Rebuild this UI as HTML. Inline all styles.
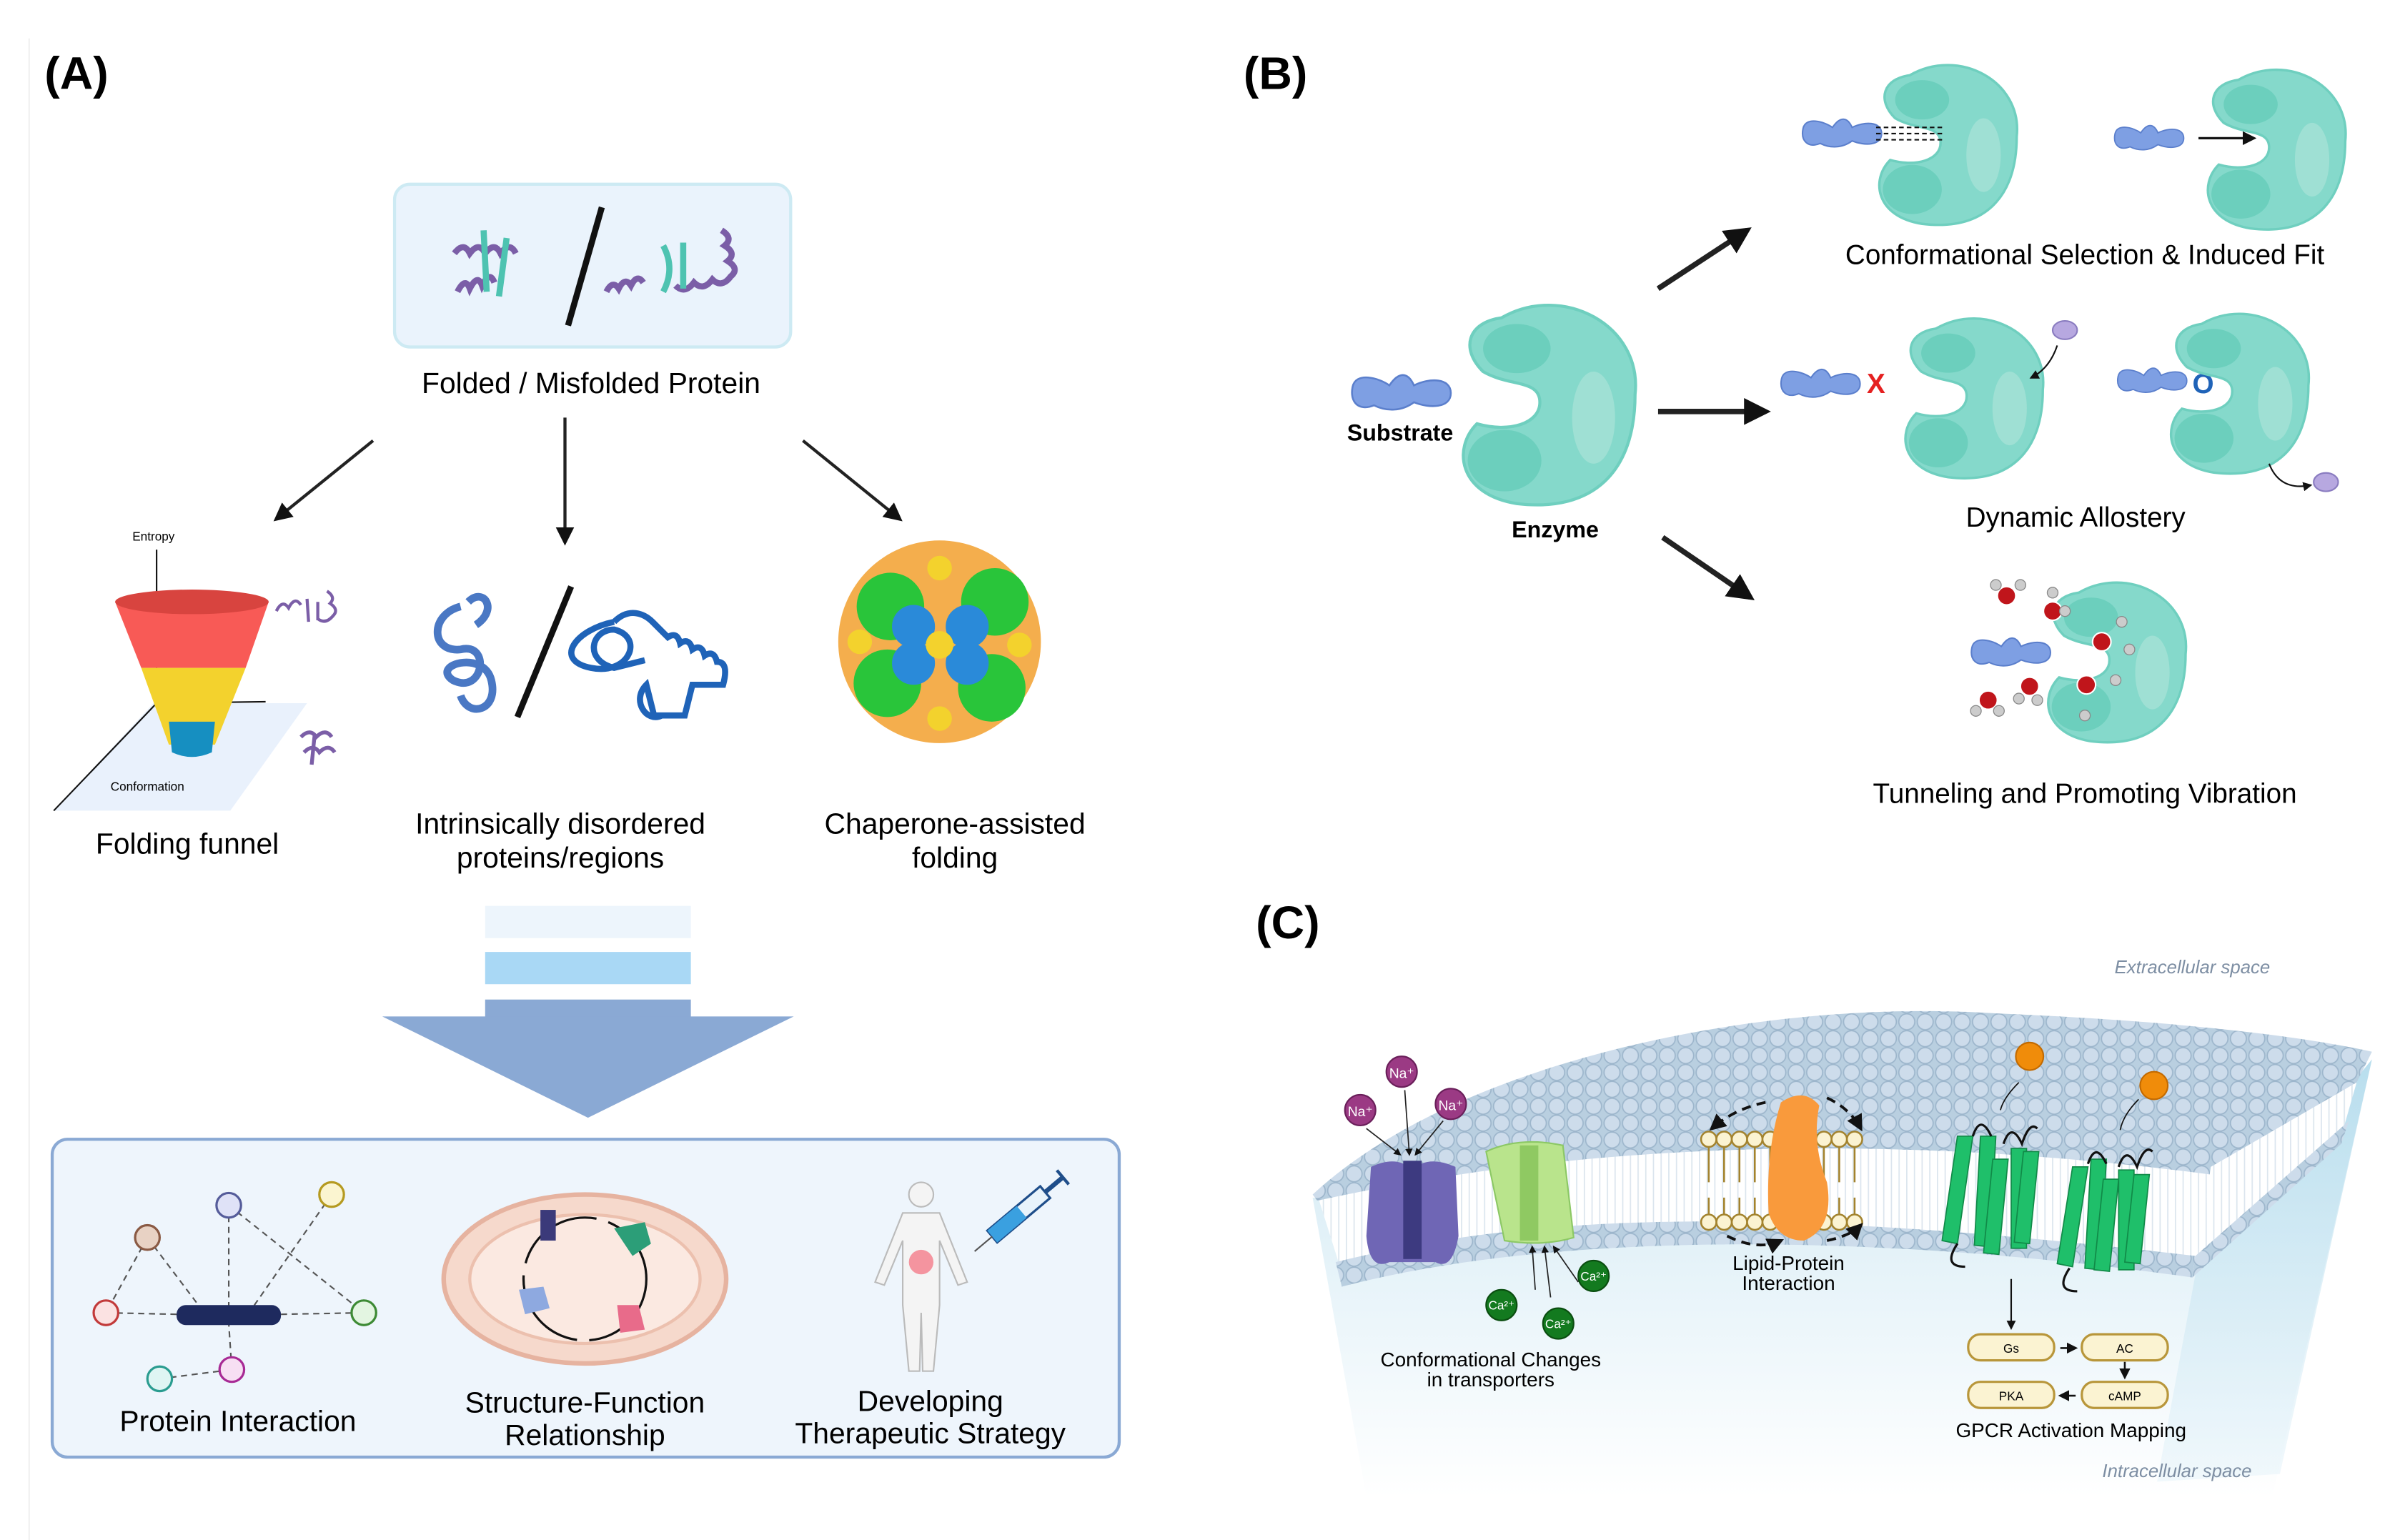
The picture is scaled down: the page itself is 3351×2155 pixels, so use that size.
<!DOCTYPE html>
<html><head><meta charset="utf-8"><style>
html,body{margin:0;padding:0;background:#fff}
svg{display:block}
text{font-family:"Liberation Sans",sans-serif}
</style></head><body>
<svg width="3351" height="2155" viewBox="0 0 1560 1003" preserveAspectRatio="none" xmlns="http://www.w3.org/2000/svg">
<defs>
<marker id="ah" viewBox="0 0 10 10" refX="8" refY="5" markerWidth="5" markerHeight="5" orient="auto"><path d="M0,0L10,5L0,10z" fill="#111"/></marker>
<marker id="sa" viewBox="0 0 10 10" refX="8" refY="5" markerWidth="6" markerHeight="6" orient="auto"><path d="M0,0L10,5L0,10z" fill="#111"/></marker>
<g id="enz"><path d="M-30,-55 C10,-78 62,-50 57,-5 C57,45 30,72 -20,66 C-58,60 -62,30 -46,14 C-25,20 -5,14 -5,0 C-5,-15 -25,-10 -42,-20 C-57,-35 -52,-52 -30,-55Z" fill="#85d9cb" stroke="#6fcfbf" stroke-width="2"/>
<ellipse cx="-20" cy="-35" rx="22" ry="16" fill="#6ccfbd"/><ellipse cx="-28" cy="38" rx="24" ry="20" fill="#6ccfbd"/><ellipse cx="30" cy="10" rx="14" ry="30" fill="#9fe0d4"/></g>
<g id="sub"><path d="M-32,-4 C-30,-14 -15,-10 -8,-5 C-2,-14 4,-14 8,-5 C18,-10 32,-10 32,0 C32,10 18,10 8,6 C0,12 -10,12 -18,8 C-28,12 -34,6 -32,-4Z" fill="#7e9fe3" stroke="#5b7fcc" stroke-width="1.2"/></g>
<pattern id="heads" width="12" height="11" patternUnits="userSpaceOnUse"><rect width="12" height="11" fill="#b9cfe0"/><circle cx="6" cy="5.5" r="5.2" fill="#cddceb" stroke="#9db6cc" stroke-width="0.8"/></pattern>
<pattern id="tails" width="5" height="40" patternUnits="userSpaceOnUse"><rect width="5" height="40" fill="#fff"/><line x1="2" y1="0" x2="2" y2="40" stroke="#dbe5ee" stroke-width="0.8"/></pattern>
<linearGradient id="cyto" x1="0" y1="0" x2="0" y2="1"><stop offset="0" stop-color="#cfe8f3"/><stop offset="1" stop-color="#fff"/></linearGradient>
<linearGradient id="side" x1="0" y1="0" x2="0" y2="1"><stop offset="0" stop-color="#a9d7ea"/><stop offset="1" stop-color="#e8f4fa"/></linearGradient>
</defs>

<line x1="19" y1="25" x2="19" y2="1003" stroke="#f0f0f0"/>
<!-- (A) -->
<text x="29" y="58" font-size="30" font-weight="bold">(A)</text>
<rect x="257" y="120" width="258" height="106" rx="10" fill="#eaf3fc" stroke="#cdeaf3" stroke-width="2"/>
<line x1="370" y1="212" x2="392" y2="135" stroke="#111" stroke-width="4"/>
<g fill="none" stroke-width="4"><path d="M298,190 q5,-10 8,-2 q5,-10 8,-2 q5,-10 8,-2 M296,165 q6,-8 10,0 q6,-8 10,0 q6,-8 10,0 q6,-8 10,0" stroke="#7b5ea7"/><path d="M315,150 l2,40 M330,155 l-5,38" stroke="#4ec3b1"/>
<path d="M395,190 q4,-8 8,-2 q4,-8 8,-2 q4,-8 8,-2 M470,150 q8,5 2,10 q8,5 2,10 q8,5 2,10 q-6,8 -12,2 q-6,8 -12,2 q-6,8 -12,2" stroke="#7b5ea7"/><path d="M432,160 q8,15 0,30 M445,158 l0,30" stroke="#4ec3b1"/></g>
<text x="385" y="256" font-size="19" text-anchor="middle">Folded / Misfolded Protein</text>
<g stroke="#222" stroke-width="2" marker-end="url(#sa)"><line x1="243" y1="287" x2="180" y2="338"/><line x1="368" y1="272" x2="368" y2="353"/><line x1="523" y1="287" x2="586" y2="338"/></g>
<!-- funnel -->
<polygon points="35,528 150,528 200,458 100,458" fill="#e9f1fc"/>
<line x1="102" y1="358" x2="102" y2="458" stroke="#111"/><line x1="102" y1="458" x2="35" y2="528" stroke="#111"/><line x1="102" y1="458" x2="173" y2="457" stroke="#111"/>
<path d="M75,392 L175,392 L160,435 L92,435Z" fill="#f85a56"/>
<path d="M92,435 L160,435 L140,485 L110,485Z" fill="#f3d22d"/>
<path d="M110,470 L140,470 L138,490 Q125,496 112,490Z" fill="#168fc1"/>
<ellipse cx="125" cy="392" rx="50" ry="8" fill="#d8443f"/>
<text x="100" y="352" font-size="8" text-anchor="middle">Entropy</text>
<text x="96" y="515" font-size="8" text-anchor="middle">Conformation</text>
<path d="M180,398 q4,-8 8,-2 q4,-8 8,-2 M200,390 l1,15 M207,392 l0,12 M213,385 q6,4 2,8 q6,4 2,8 q-5,6 -10,2" stroke="#7b5ea7" stroke-width="2" fill="none"/>
<path d="M196,480 q6,-6 10,0 q6,-6 10,0 M198,490 q6,-6 10,0 q6,-6 10,0 M205,478 l-2,20" stroke="#7b5ea7" stroke-width="2.5" fill="none"/>
<text x="122" y="556" font-size="19" text-anchor="middle">Folding funnel</text>
<!-- IDP -->
<line x1="337" y1="467" x2="372" y2="382" stroke="#111" stroke-width="4"/>
<path d="M300,395 c-20,5 -20,30 0,28 c20,-5 15,30 -5,20 c-15,-10 20,-20 25,0 c5,20 -15,25 -20,10 M305,392 c10,-10 20,5 5,15" stroke="#4a78c4" stroke-width="5" fill="none"/>
<path d="M400,405 c-25,5 -40,25 -15,30 c25,5 35,-20 15,-25 c-15,0 -20,20 0,25 l20,-5 M400,405 c10,-10 20,-5 25,0 l10,10 q6,-4 8,4 q6,-4 8,4 q6,-4 8,4 q6,-4 8,4 q8,0 4,15 l-20,0 l-5,20 l-20,0 l-5,-20 c-10,10 0,25 10,20" stroke="#1f63b8" stroke-width="4" fill="none"/>
<text x="365" y="543" font-size="19" text-anchor="middle">Intrinsically disordered</text>
<text x="365" y="565" font-size="19" text-anchor="middle">proteins/regions</text>
<!-- chaperone -->
<g>
<circle cx="612" cy="418" r="66" fill="#f2a02e" opacity="0.85"/>
<circle cx="580" cy="395" r="22" fill="#29c53a"/><circle cx="648" cy="392" r="22" fill="#29c53a"/><circle cx="578" cy="445" r="22" fill="#29c53a"/><circle cx="646" cy="448" r="22" fill="#29c53a"/>
<circle cx="595" cy="408" r="14" fill="#2a8ad9"/><circle cx="630" cy="408" r="14" fill="#2a8ad9"/><circle cx="595" cy="432" r="14" fill="#2a8ad9"/><circle cx="630" cy="432" r="14" fill="#2a8ad9"/>
<circle cx="612" cy="420" r="9" fill="#f3d22d"/><circle cx="560" cy="418" r="8" fill="#f3d22d"/><circle cx="664" cy="420" r="8" fill="#f3d22d"/><circle cx="612" cy="370" r="8" fill="#f3d22d"/><circle cx="612" cy="468" r="8" fill="#f3d22d"/>
</g>
<text x="622" y="543" font-size="19" text-anchor="middle">Chaperone-assisted</text>
<text x="622" y="565" font-size="19" text-anchor="middle">folding</text>
<!-- big arrow -->
<rect x="316" y="590" width="134" height="21" fill="#edf5fc"/>
<rect x="316" y="620" width="134" height="21" fill="#a9d8f5"/>
<rect x="316" y="651" width="134" height="12" fill="#8aa9d4"/>
<polygon points="249,662 517,662 383,728" fill="#8aa9d4"/>
<!-- bottom box -->
<rect x="34" y="742" width="695" height="207" rx="10" fill="#eef5fc" stroke="#8aa9d4" stroke-width="2"/>
<g stroke="#555" stroke-width="1" stroke-dasharray="4,3" fill="none">
<line x1="96" y1="806" x2="69" y2="855"/><line x1="96" y1="806" x2="130" y2="851"/><line x1="149" y1="785" x2="149" y2="851"/><line x1="216" y1="778" x2="165" y2="851"/><line x1="149" y1="785" x2="237" y2="855"/><line x1="69" y1="855" x2="115" y2="856"/><line x1="183" y1="856" x2="237" y2="855"/><line x1="104" y1="898" x2="151" y2="892"/><line x1="151" y1="892" x2="149" y2="862"/>
</g>
<rect x="115" y="850" width="68" height="13" rx="6" fill="#1e2a5e"/>
<g stroke-width="1.5"><circle cx="96" cy="806" r="8" fill="#e8d2c4" stroke="#8a5a44"/><circle cx="149" cy="785" r="8" fill="#dfe2f7" stroke="#555c9a"/><circle cx="216" cy="778" r="8" fill="#fbf5d0" stroke="#b59a20"/><circle cx="69" cy="855" r="8" fill="#fbe2e2" stroke="#c23a3a"/><circle cx="237" cy="855" r="8" fill="#e3f5e1" stroke="#3d8a34"/><circle cx="104" cy="898" r="8" fill="#dff5f3" stroke="#2a9c90"/><circle cx="151" cy="892" r="8" fill="#f7dff3" stroke="#a82a95"/></g>
<text x="155" y="932" font-size="19" text-anchor="middle">Protein Interaction</text>
<ellipse cx="381" cy="833" rx="92" ry="55" fill="#f6d9cc" stroke="#e6b3a0" stroke-width="3"/>
<ellipse cx="381" cy="833" rx="75" ry="42" fill="#fbe9e1" stroke="#ecc0ae" stroke-width="2"/>
<circle cx="381" cy="833" r="40" fill="none" stroke="#111" stroke-width="1.5" stroke-dasharray="60,8"/>
<rect x="352" y="788" width="10" height="20" fill="#3b3a7a"/><path d="M400,800 l20,-4 l4,14 l-12,8z" fill="#2c9e78"/><path d="M338,840 l16,-2 l4,14 l-16,4z" fill="#8ea9e0"/><path d="M402,850 l14,0 l4,16 l-16,2z" fill="#e86b8a"/>
<text x="381" y="920" font-size="19" text-anchor="middle">Structure-Function</text>
<text x="381" y="941" font-size="19" text-anchor="middle">Relationship</text>
<g fill="#f4f4f4" stroke="#bbb" stroke-width="1"><circle cx="600" cy="778" r="8"/><path d="M588,790 L612,790 L630,835 L624,837 L612,808 L612,850 L608,893 L601,893 L600,855 L599,893 L592,893 L588,850 L588,808 L576,837 L570,835Z"/></g>
<circle cx="600" cy="822" r="8" fill="#f36b7a" opacity="0.7"/>
<g transform="rotate(-40 667 788)"><rect x="640" y="783" width="45" height="10" fill="#e8f3fb" stroke="#1f4e8a" stroke-width="1.5"/><rect x="640" y="783" width="25" height="10" fill="#3aa0e0"/><line x1="685" y1="788" x2="700" y2="788" stroke="#1f4e8a" stroke-width="3"/><line x1="700" y1="782" x2="700" y2="794" stroke="#1f4e8a" stroke-width="2"/><line x1="640" y1="788" x2="625" y2="788" stroke="#555" stroke-width="1"/></g>
<text x="606" y="919" font-size="19" text-anchor="middle">Developing</text>
<text x="606" y="940" font-size="19" text-anchor="middle">Therapeutic Strategy</text>

<!-- (B) -->
<text x="810" y="58" font-size="30" font-weight="bold">(B)</text>
<use href="#enz" transform="translate(1008,262)"/>
<use href="#sub" transform="translate(913,256)"/>
<text x="912" y="287" font-size="15" font-weight="bold" text-anchor="middle">Substrate</text>
<text x="1013" y="350" font-size="15" font-weight="bold" text-anchor="middle">Enzyme</text>
<g stroke="#222" stroke-width="3.5" marker-end="url(#ah)"><line x1="1080" y1="188" x2="1138" y2="150"/><line x1="1080" y1="268" x2="1150" y2="268"/><line x1="1083" y1="350" x2="1140" y2="389"/></g>
<use href="#enz" transform="translate(1268,93) scale(0.8)"/>
<use href="#sub" transform="translate(1200,87) scale(0.8)"/>
<g stroke="#111" stroke-dasharray="3,2"><line x1="1222" y1="83" x2="1265" y2="83"/><line x1="1222" y1="87" x2="1265" y2="87"/><line x1="1222" y1="91" x2="1265" y2="91"/></g>
<use href="#enz" transform="translate(1482,96) scale(0.8)"/>
<use href="#sub" transform="translate(1400,90) scale(0.7)"/>
<line x1="1432" y1="90" x2="1468" y2="90" stroke="#111" stroke-width="1.5" marker-end="url(#sa)"/>
<text x="1358" y="172" font-size="18" text-anchor="middle">Conformational Selection &amp; Induced Fit</text>
<use href="#sub" transform="translate(1186,250) scale(0.8)"/>
<text x="1222" y="256" font-size="18" font-weight="bold" fill="#e52020" text-anchor="middle">X</text>
<use href="#enz" transform="translate(1285,258) scale(0.8)"/>
<ellipse cx="1345" cy="215" rx="8" ry="6" fill="#b7a8e0" stroke="#8a7cc0"/>
<path d="M1340,225 Q1335,240 1323,246" stroke="#111" fill="none" marker-end="url(#sa)"/>
<use href="#sub" transform="translate(1402,248) scale(0.7)"/>
<text x="1435" y="256" font-size="18" font-weight="bold" fill="#1f63b8" text-anchor="middle">O</text>
<use href="#enz" transform="translate(1458,255) scale(0.8)"/>
<ellipse cx="1515" cy="314" rx="8" ry="6" fill="#b7a8e0" stroke="#8a7cc0"/>
<path d="M1478,302 Q1485,320 1505,316" stroke="#111" fill="none" marker-end="url(#sa)"/>
<text x="1352" y="343" font-size="18" text-anchor="middle">Dynamic Allostery</text>
<use href="#enz" transform="translate(1378,430) scale(0.8)"/>
<use href="#sub" transform="translate(1310,425) scale(0.8)"/>
<g fill="#c0151b" stroke="#fff" stroke-width="1"><circle cx="1307" cy="388" r="6"/><circle cx="1337" cy="398" r="6"/><circle cx="1369" cy="418" r="6"/><circle cx="1359" cy="446" r="6"/><circle cx="1322" cy="447" r="6"/><circle cx="1295" cy="456" r="6"/></g>
<g fill="#ccc" stroke="#888" stroke-width="0.6"><circle cx="1300" cy="381" r="3.5"/><circle cx="1316" cy="381" r="3.5"/><circle cx="1337" cy="386" r="3.5"/><circle cx="1345" cy="398" r="3.5"/><circle cx="1382" cy="405" r="3.5"/><circle cx="1387" cy="423" r="3.5"/><circle cx="1378" cy="443" r="3.5"/><circle cx="1358" cy="466" r="3.5"/><circle cx="1315" cy="455" r="3.5"/><circle cx="1327" cy="456" r="3.5"/><circle cx="1287" cy="463" r="3.5"/><circle cx="1302" cy="463" r="3.5"/></g>
<text x="1358" y="523" font-size="18" text-anchor="middle">Tunneling and Promoting Vibration</text>

<!-- (C) -->
<text x="818" y="611" font-size="30" font-weight="bold">(C)</text>
<text x="1428" y="634" font-size="12" font-style="italic" fill="#7d8ea3" text-anchor="middle">Extracellular space</text>
<path d="M855,780 C1000,800 1250,800 1430,830 L1545,690 L1480,975 L890,975Z" fill="url(#cyto)"/>
<path d="M1430,830 L1545,690 L1485,960 L1405,965Z" fill="url(#side)" opacity="0.6"/>
<path d="M858,778 C1000,740 1200,735 1440,760 L1430,830 C1300,805 1100,790 875,832Z" fill="url(#tails)"/>
<path d="M855,778 C950,690 1150,650 1300,660 C1420,665 1500,675 1545,685 L1535,705 C1500,740 1470,755 1440,765 C1250,740 1050,740 858,782Z" fill="url(#heads)"/>
<path d="M1440,760 L1535,705 L1525,740 L1430,830Z" fill="url(#tails)"/>
<path d="M870,822 C1000,790 1150,785 1430,818 L1428,832 C1200,800 1000,805 874,838Z" fill="url(#heads)"/>
<path d="M1430,818 L1530,730 L1525,745 L1428,832Z" fill="url(#heads)"/>
<path d="M893,760 Q910,752 920,762 Q930,752 948,760 L950,805 Q946,828 935,822 L905,822 Q892,828 890,805Z" fill="#6f66b5"/>
<rect x="914" y="756" width="12" height="64" fill="#3d3a80"/>
<path d="M968,750 Q990,740 1018,746 L1025,806 Q1005,812 980,808Z" fill="#b9e48c" stroke="#8cc865"/>
<rect x="990" y="746" width="12" height="62" fill="#8fc962"/>
<g fill="#9b3a84" stroke="#6a1f5a"><circle cx="913" cy="698" r="10"/><circle cx="886" cy="723" r="10"/><circle cx="945" cy="719" r="10"/></g>
<g font-size="9" fill="#fff" text-anchor="middle"><text x="913" y="702">Na⁺</text><text x="886" y="727">Na⁺</text><text x="945" y="723">Na⁺</text></g>
<g stroke="#222" stroke-width="0.8" marker-end="url(#sa)" fill="none"><line x1="915" y1="710" x2="918" y2="752"/><line x1="890" y1="735" x2="912" y2="752"/><line x1="940" y1="730" x2="922" y2="752"/><line x1="1000" y1="840" x2="998" y2="812"/><line x1="1010" y1="845" x2="1006" y2="812"/><line x1="1028" y1="835" x2="1012" y2="812"/></g>
<g fill="#137a1f" stroke="#0a4d10"><circle cx="978" cy="850" r="10"/><circle cx="1015" cy="862" r="10"/><circle cx="1038" cy="831" r="10"/></g>
<g font-size="8" fill="#fff" text-anchor="middle"><text x="978" y="853">Ca²⁺</text><text x="1015" y="865">Ca²⁺</text><text x="1038" y="834">Ca²⁺</text></g>
<text x="971" y="890" font-size="13" text-anchor="middle">Conformational Changes</text>
<text x="971" y="903" font-size="13" text-anchor="middle">in transporters</text>
<g stroke="#a3832e" stroke-width="1.2" fill="#fbf3d2"><g id="lp"><line x1="1113" y1="746" x2="1113" y2="770"/><line x1="1113" y1="780" x2="1113" y2="792"/><circle cx="1113" cy="742" r="5"/><circle cx="1113" cy="796" r="5"/></g>
<use href="#lp" x="10"/><use href="#lp" x="20"/><use href="#lp" x="30"/><use href="#lp" x="40"/><use href="#lp" x="75"/><use href="#lp" x="85"/><use href="#lp" x="95"/></g>
<path d="M1160,718 Q1175,708 1185,720 Q1180,745 1190,770 Q1195,800 1175,808 Q1158,808 1152,790 Q1150,750 1160,718Z" fill="#f99a3c"/>
<g stroke="#111" stroke-width="1.8" stroke-dasharray="6,4" fill="none" marker-end="url(#sa)"><path d="M1150,718 Q1130,722 1115,735"/><path d="M1190,715 Q1205,722 1212,735"/><path d="M1125,805 Q1145,815 1160,808"/><path d="M1190,808 Q1205,805 1212,798"/></g>
<text x="1165" y="827" font-size="13" text-anchor="middle">Lipid-Protein</text>
<text x="1165" y="840" font-size="13" text-anchor="middle">Interaction</text>
<g fill="#1fbf6a" stroke="#118a48" stroke-width="0.8">
<path d="M1275,740 l10,0 l-10,70 l-10,-2z"/><path d="M1290,740 l10,0 l-4,72 l-10,-1z"/><path d="M1298,755 l10,0 l-6,62 l-10,-1z"/><path d="M1310,748 l10,0 l0,65 l-10,0z"/><path d="M1318,750 l10,0 l-6,60 l-10,-1z"/>
<path d="M1350,760 l10,0 l-10,65 l-10,-2z"/><path d="M1362,755 l10,0 l-4,72 l-10,-1z"/><path d="M1370,768 l10,0 l-6,60 l-10,-1z"/><path d="M1380,762 l10,0 l0,65 l-10,0z"/><path d="M1390,765 l10,0 l-6,58 l-10,-1z"/></g>
<g stroke="#111" stroke-width="1.5" fill="none"><path d="M1285,740 q5,-15 12,0 M1305,745 q5,-15 12,0 q5,-15 10,-10 M1275,810 q-10,15 5,15 M1360,758 q5,-15 12,0 M1380,760 q5,-15 12,0 q5,-15 10,-10 M1348,826 q-10,15 5,15"/><path d="M1315,705 q-10,10 -12,18 M1393,716 q-10,10 -12,20" stroke-width="0.8"/></g>
<circle cx="1322" cy="688" r="9" fill="#f08c0a" stroke="#c36a00"/><circle cx="1403" cy="707" r="9" fill="#f08c0a" stroke="#c36a00"/>
<line x1="1310" y1="833" x2="1310" y2="865" stroke="#111" marker-end="url(#sa)"/>
<g fill="#fbf3d2" stroke="#b8963a" stroke-width="1.5"><rect x="1282" y="869" width="56" height="17" rx="8"/><rect x="1356" y="869" width="56" height="17" rx="8"/><rect x="1282" y="900" width="56" height="17" rx="8"/><rect x="1356" y="900" width="56" height="17" rx="8"/></g>
<g font-size="8" text-anchor="middle"><text x="1310" y="881">Gs</text><text x="1384" y="881">AC</text><text x="1310" y="912">PKA</text><text x="1384" y="912">cAMP</text></g>
<g stroke="#111" stroke-width="1.2" marker-end="url(#sa)"><line x1="1342" y1="878" x2="1352" y2="878"/><line x1="1384" y1="887" x2="1384" y2="897"/><line x1="1352" y1="909" x2="1342" y2="909"/></g>
<text x="1349" y="936" font-size="13" text-anchor="middle">GPCR Activation Mapping</text>
<text x="1418" y="962" font-size="12" font-style="italic" fill="#7d8ea3" text-anchor="middle">Intracellular space</text>
</svg>
</body></html>
